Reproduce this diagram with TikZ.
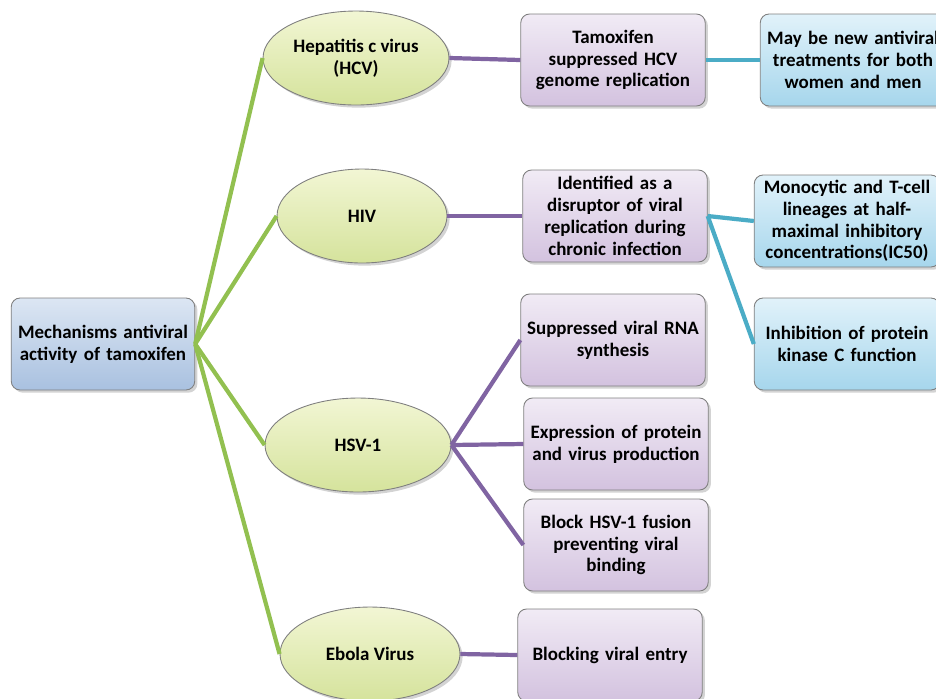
\documentclass[tikz,border=0pt]{standalone}
\usepackage{fontspec}
\setmainfont{Carlito}
\usetikzlibrary{shapes.geometric,shadows}
\definecolor{rootlo}{HTML}{A9C1E0}
\definecolor{roothi}{HTML}{DCE6F3}
\definecolor{virlo}{HTML}{D5E39C}
\definecolor{virhi}{HTML}{F2F6D4}
\definecolor{efflo}{HTML}{D3C2DF}
\definecolor{effhi}{HTML}{F1EBF5}
\definecolor{notelo}{HTML}{A6D6EC}
\definecolor{notehi}{HTML}{E1F2FA}
\definecolor{edgegray}{HTML}{7F7F7F}
\definecolor{greenline}{HTML}{92C050}
\definecolor{purpleline}{HTML}{8064A2}
\definecolor{blueline}{HTML}{4BACC6}

\begin{document}
\begin{tikzpicture}[x=0.02cm,y=-0.02cm,
  font=\fontsize{10.8}{12.4}\selectfont\bfseries,
  card/.style={rounded corners=5pt,draw=edgegray,line width=0.5pt,align=center,
    minimum height=1.84cm,inner sep=1pt,
    drop shadow={opacity=0.35,shadow xshift=1.5pt,shadow yshift=-1.5pt}},
  rootbox/.style={card,top color=roothi,bottom color=rootlo,minimum width=3.66cm,text width=3.6cm},
  virus/.style={ellipse,draw=edgegray,line width=0.5pt,align=center,inner xsep=-12pt,inner ysep=0pt,
    top color=virhi,bottom color=virlo,minimum width=3.72cm,minimum height=1.88cm,
    drop shadow={opacity=0.35,shadow xshift=1.5pt,shadow yshift=-1.5pt}},
  effect/.style={card,top color=effhi,bottom color=efflo,minimum width=3.68cm,text width=3.62cm},
  note/.style={card,top color=notehi,bottom color=notelo,minimum width=3.7cm,text width=3.64cm},
  gline/.style={greenline,line width=2.4pt},
  pline/.style={purpleline,line width=2.4pt},
  bline/.style={blueline,line width=2.4pt}]
\useasboundingbox (0,0) rectangle (936,698);
\clip (0,0) rectangle (936,698);

% root
\node[rootbox] (root) at (103,344) {Mechanisms antiviral\\activity of tamoxifen};

% viruses
\node[virus] (hcv) at (356,58) {Hepatitis c virus\\(HCV)};
\node[virus,minimum width=3.4cm] (hiv) at (362,216) {HIV};
\node[virus] (hsv) at (358,445) {HSV-1};
\node[virus,minimum width=3.6cm] (ebola) at (370,654) {Ebola Virus};

% effects
\node[effect] (supHCV) at (613,60) {Tamoxifen\\suppressed HCV\\genome replication};
\node[effect] (disrupt) at (615,216) {Identified as a\\disruptor of viral\\replication during\\chronic infection};
\node[effect] (rna) at (613,340) {Suppressed viral RNA\\synthesis};
\node[effect] (expr) at (616,444) {Expression of protein\\and virus production};
\node[effect] (fusion) at (616,545) {Block HSV-1 fusion\\preventing viral\\binding};
\node[effect] (entry) at (610,655) {Blocking viral entry};

% notes
\node[note] (newtx) at (853,60) {May be new antiviral\\treatments for both\\women and men};
\node[note] (ic50) at (847,221) {Monocytic and T-cell\\lineages at half-\\maximal inhibitory\\concentrations(IC50)};
\node[note] (pkc) at (847,344) {Inhibition of protein\\kinase C function};

% connectors
\begin{scope}[on background layer/.try]
\foreach \v in {hcv,hiv,hsv,ebola}
  \draw[gline] (root.east) -- (\v.west);
\draw[pline] (hcv.east) -- (supHCV.west);
\draw[pline] (hiv.east) -- (disrupt.west);
\foreach \e in {rna,expr,fusion}
  \draw[pline] (hsv.east) -- (\e.west);
\draw[pline] (ebola.east) -- (entry.west);
\draw[bline] (supHCV.east) -- (newtx.west);
\draw[bline] (disrupt.east) -- (ic50.west);
\draw[bline] (disrupt.east) -- (pkc.west);
\end{scope}
\end{tikzpicture}
\end{document}
